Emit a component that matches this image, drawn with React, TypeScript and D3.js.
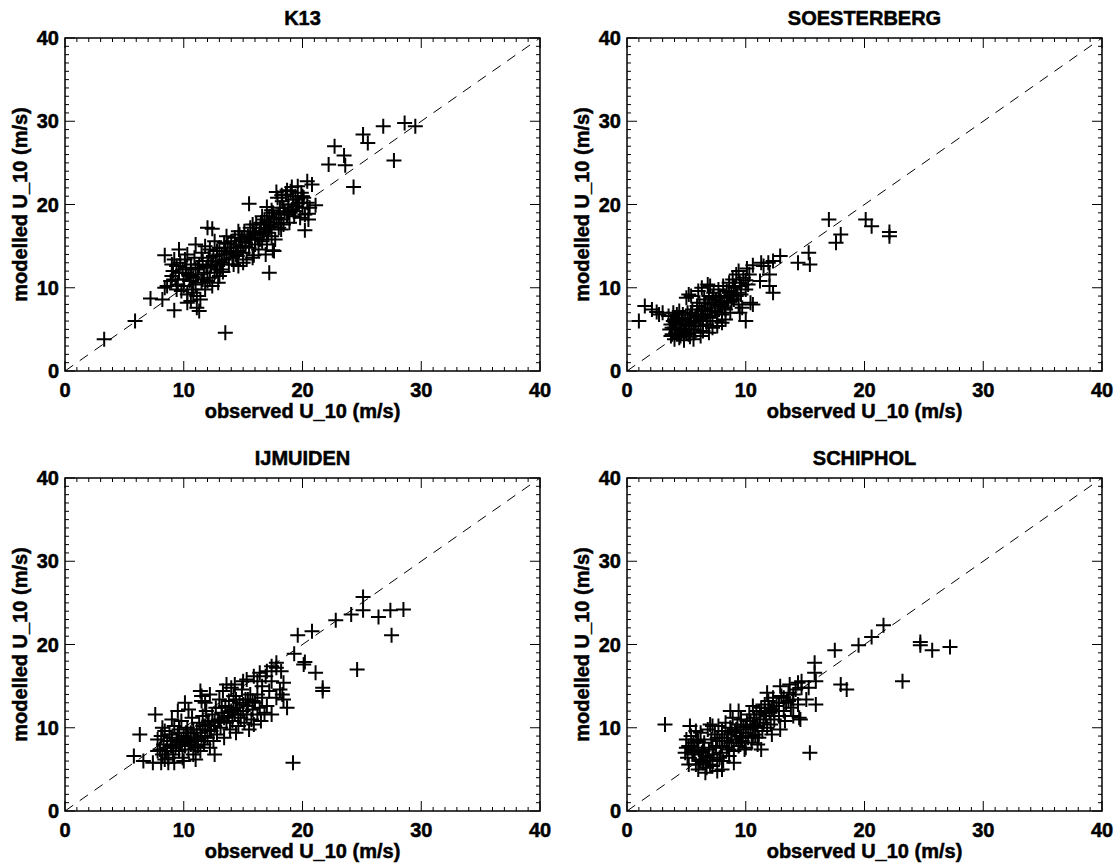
import React from "react";
import * as d3 from "d3";

const stationNames: string[] = ["K13", "SOESTERBERG", "IJMUIDEN", "SCHIPHOL"];
const tickValues: number[] = [0, 10, 20, 30, 40];
const xAxisTitle = "observed U_10 (m/s)";
const yAxisTitle = "modelled U_10 (m/s)";

const k13Points: [number, number][] = [
  [3.3,3.8],[5.9,6.0],[7.2,8.7],[8.2,8.6],[8.4,13.9],[8.4,10.0],[9.2,7.3],[9.6,14.6],[10.3,8.2],[11.0,15.2],[11.1,7.6],[11.3,7.2],[12.0,17.2],[12.4,17.1],[13.5,4.6],[15.5,20.1],[17.2,11.8],[17.6,14.4],[20.4,22.8],[20.8,22.4],[20.2,16.9],[21.1,19.9],[22.2,24.8],[22.7,27.0],[23.5,25.9],[23.6,24.7],[24.3,22.1],[25.1,28.4],[25.5,27.4],[26.8,29.4],[27.7,25.3],[28.6,29.8],[29.5,29.4],
  [8.6,10.2],[8.9,10.8],[9.0,11.4],[9.1,12.0],[9.3,11.0],[9.4,12.6],[9.5,10.4],[9.6,11.8],[9.7,13.0],[9.8,9.6],[9.9,12.2],[10.0,11.0],[10.0,10.2],[10.1,13.4],[10.2,12.4],[10.3,9.2],[10.4,11.6],[10.5,10.8],[10.6,12.8],[10.7,9.8],[10.8,11.2],[10.9,13.6],[11.0,12.2],[11.0,10.4],[11.1,9.0],[11.2,11.6],[11.3,12.8],[11.4,8.6],[11.5,10.6],[11.6,13.2],[11.7,11.8],[11.8,9.8],[11.9,12.4],[12.0,10.8],[12.1,13.6],[12.2,11.2],[12.3,12.6],[12.4,10.2],[12.5,13.8],[12.6,11.8],[12.7,12.8],[12.8,14.4],[12.9,10.6],[13.0,13.2],[13.1,12.2],[9.2,13.4],[10.3,14.0],[11.5,14.2],[10.6,8.4],[13.3,11.9],
  [13.2,14.0],[13.4,13.4],[13.5,14.8],[13.7,15.3],[13.8,12.8],[13.9,14.2],[14.0,15.6],[14.1,13.6],[14.2,14.8],[14.3,16.0],[14.4,15.2],[14.5,13.8],[14.6,14.4],[14.7,16.4],[14.8,15.0],[14.9,15.8],[15.0,14.2],[15.1,16.8],[15.2,15.4],[15.3,13.4],[15.4,16.2],[15.5,14.8],[15.6,17.2],[15.7,15.8],[15.8,13.6],[15.9,16.6],[16.0,15.2],[16.1,17.6],[16.2,16.0],[16.3,14.6],[16.4,16.8],[16.5,17.8],[16.6,15.6],[16.7,16.4],[16.8,18.2],[16.9,17.0],[17.0,15.2],[17.1,16.6],[17.2,18.6],[17.3,17.4],[17.4,16.2],[17.5,19.0],[17.6,17.8],[17.7,15.8],[17.8,18.4],[17.9,20.8],[18.0,17.2],[18.1,19.6],[18.2,18.2],[18.3,20.4],[18.4,17.6],[18.5,19.2],[18.6,21.2],[18.7,18.8],[18.8,20.0],[18.9,17.8],[19.0,21.6],[19.1,19.4],[19.2,20.6],[19.3,18.6],[19.4,21.0],[19.5,19.8],[19.6,22.2],[19.7,20.2],[19.8,18.4],[19.9,21.4],[20.0,19.6],[20.1,20.8],[20.2,18.8],[20.4,20.2],[20.5,18.2],[20.6,19.6],[17.8,21.5],[18.25,21.1],[18.7,21.7],[19.1,22.1],[17.0,19.7],[17.4,19.3],[20.5,18.9],[15.9,13.9],[17.5,14.5],[14.6,12.6],[13.6,16.2],[12.6,15.6],[13.0,14.8],[16.9,14.0],
  [10.2,11.8],[10.6,11.4],[11.2,12.4],[11.6,11.0],[12.0,12.6],[12.4,13.2],[12.8,12.2],[13.2,13.0],[13.6,14.0],[14.0,14.4],[14.4,14.0],[14.8,15.6],[15.2,15.0],[15.6,16.0],[16.0,16.4],[16.4,15.8],[16.8,17.2],[17.2,17.6],[17.6,18.4],[18.0,18.8],[18.4,19.6],[18.8,19.0],[19.2,20.0],[19.6,20.6],[20.0,21.0],[13.4,15.4],[14.2,12.8],[15.0,13.0],[12.2,14.6],[11.8,15.0],[9.4,9.8],[10.8,9.4],[9.0,12.8],[15.8,17.6],[16.6,18.6],[17.0,18.0],[18.2,17.0],[19.4,19.2],[14.6,16.8],[13.0,11.4]
];

const soesterbergPoints: [number, number][] = [
  [1.0,6.0],[1.5,7.8],[2.1,7.4],[2.5,7.1],[2.7,6.8],[3.0,7.0],[3.5,6.6],[4.4,4.0],[5.2,9.2],[6.8,10.4],[8.3,6.2],[9.5,7.0],[10.0,6.0],[10.4,8.2],[10.6,8.0],[12.0,11.6],[12.0,10.2],[12.3,9.4],[12.3,13.2],[12.9,13.8],[14.4,13.0],[15.3,14.2],[15.4,12.8],[17.0,18.2],[17.6,15.4],[18.0,16.4],[20.1,18.2],[20.6,17.4],[22.1,16.7],[22.1,16.2],[9.4,12.0],[10.1,12.3],[10.6,12.7],[11.3,13.0],[11.9,13.0],[11.5,12.6],[10.0,10.9],[11.2,10.8],[9.7,7.6],
  [3.6,5.0],[3.7,5.6],[3.8,4.4],[3.9,6.0],[4.0,5.2],[4.1,4.6],[4.2,5.8],[4.3,6.4],[4.4,5.0],[4.5,4.2],[4.6,5.6],[4.7,6.8],[4.8,4.8],[4.9,6.0],[5.0,5.4],[5.1,7.0],[5.2,4.4],[5.3,6.4],[5.4,5.0],[5.5,7.4],[5.6,5.8],[5.7,4.6],[5.8,6.6],[5.9,7.8],[6.0,5.4],[6.1,8.2],[6.2,6.2],[6.3,7.2],[6.4,4.8],[6.5,8.6],[6.6,6.8],[6.7,5.6],[6.8,7.6],[6.9,9.0],[7.0,6.4],[7.1,8.0],[7.2,5.2],[7.3,9.4],[7.4,7.2],[7.5,8.6],[7.6,6.0],[7.7,9.8],[7.8,7.8],[7.9,8.4],[8.0,6.8],[8.1,10.2],[8.2,9.0],[8.3,7.4],[8.4,9.6],[8.5,8.2],[8.6,10.6],[8.7,7.0],[8.8,9.2],[8.9,11.0],[9.0,8.6],[9.1,10.0],[9.2,11.6],[9.3,9.4],[9.4,8.0],[9.5,10.6],[9.6,9.2],[9.8,11.2],[10.0,9.8],[10.2,10.4],[10.3,11.6],[5.0,8.8],[5.4,9.0],[6.0,9.6],[6.3,10.0],[7.0,10.2],[4.4,7.2],[3.9,7.0],[4.2,6.8],[5.6,3.8],[6.2,4.2],[6.9,4.6],[5.3,4.1],[4.8,3.7],[7.6,5.4],[8.0,5.8],[4.0,3.8],[3.7,4.2],
  [4.6,5.0],[5.0,4.6],[5.2,5.6],[5.6,5.0],[5.8,6.0],[6.0,6.8],[6.2,5.4],[6.4,6.4],[6.6,7.4],[6.8,6.0],[7.0,7.2],[7.2,6.6],[7.4,8.2],[7.6,7.0],[7.8,9.0],[8.0,8.0],[8.2,7.6],[8.4,8.8],[8.6,9.4],[8.8,8.4],[9.0,10.2],[9.2,9.0],[9.6,10.2],[4.2,4.4],[4.6,6.2],[5.4,6.8],[6.6,8.2],[7.2,8.8],[4.0,6.2],[3.8,5.2]
];

const ijmuidenPoints: [number, number][] = [
  [5.8,6.6],[6.3,9.2],[6.6,6.0],[7.4,5.8],[8.1,5.8],[8.7,5.8],[7.6,11.6],[11.4,14.4],[11.5,13.8],[11.5,13.2],[10.1,13.0],[9.5,12.0],[19.2,5.8],[19.3,18.9],[19.6,21.1],[20.1,17.6],[20.2,17.9],[20.8,21.6],[21.1,16.6],[21.7,14.8],[21.7,14.4],[22.8,22.9],[24.1,23.6],[24.6,17.0],[25.1,25.7],[25.1,24.1],[26.4,23.3],[27.4,24.1],[27.5,21.1],[28.5,24.2],[18.7,12.4],[18.4,15.4],[17.8,13.6],[18.1,14.6],[17.8,17.2],[18.2,16.8],[14.3,15.2],[15.0,15.6],[15.3,15.8],[15.9,16.2],[16.4,16.6],[17.0,16.8],[17.4,17.4],[17.8,17.8],[18.4,13.4],[18.3,14.0],[17.4,11.6],
  [7.8,8.6],[8.0,7.4],[8.1,9.0],[8.2,6.8],[8.3,8.0],[8.4,9.6],[8.5,7.2],[8.6,8.4],[8.7,6.4],[8.8,9.2],[8.9,7.8],[9.0,8.8],[9.1,6.8],[9.2,10.2],[9.3,7.6],[9.4,8.6],[9.5,9.4],[9.6,7.2],[9.7,8.2],[9.8,10.8],[9.9,6.4],[10.0,9.0],[10.1,7.8],[10.2,8.6],[10.3,10.0],[10.4,7.4],[10.5,8.2],[10.6,9.4],[10.7,11.2],[10.8,6.8],[10.9,8.8],[11.0,7.6],[11.1,9.8],[11.2,8.4],[11.3,10.6],[11.4,7.2],[11.5,9.0],[11.6,11.4],[11.7,8.0],[11.8,10.2],[11.9,12.0],[12.0,8.8],[12.1,10.8],[12.2,7.6],[12.3,9.6],[12.4,11.6],[12.5,8.4],[12.6,10.2],[12.7,12.4],[12.8,9.2],[12.9,11.0],[13.0,13.4],[13.1,10.0],[13.2,11.8],[13.3,14.4],[13.4,8.8],[13.5,12.6],[13.6,10.6],[13.7,11.4],[13.8,13.2],[13.9,9.8],[14.0,12.0],[14.1,10.8],[14.2,13.8],[14.3,11.6],[14.4,9.4],[14.5,12.4],[14.6,10.2],[14.7,13.0],[14.8,11.2],[14.9,14.6],[15.0,12.0],[15.1,10.6],[15.2,13.4],[15.3,11.6],[15.4,12.6],[15.5,9.8],[15.6,14.0],[15.7,11.0],[15.8,12.2],[15.9,10.4],[16.0,13.0],[16.2,11.6],[16.4,12.4],[16.6,15.0],[16.8,11.8],[17.0,12.6],[17.2,14.4],[17.4,15.6],[16.5,10.8],[10.0,6.0],[11.0,6.2],[12.6,6.8],[9.2,5.8],[7.8,7.2],[8.2,10.0],[10.4,12.2],[11.8,13.0],[12.2,14.0],[9.0,11.0],[14.0,14.8],[13.6,15.2],[16.2,15.6],[16.9,16.2],
  [9.0,7.8],[9.4,8.0],[9.8,8.4],[10.2,9.4],[10.6,8.0],[11.0,8.6],[11.4,9.4],[11.8,9.0],[12.2,9.8],[12.6,10.6],[13.0,10.8],[13.4,11.2],[13.8,11.8],[14.2,12.2],[14.6,11.6],[15.0,12.8],[15.4,13.4],[15.8,13.2],[16.2,14.0],[16.6,13.6],[10.4,8.8],[10.8,9.8],[11.2,7.8],[12.0,10.4],[13.2,12.4],[14.4,13.4],[9.6,9.8],[8.6,7.6],[8.4,6.2],[11.6,10.2]
];

const schipholPoints: [number, number][] = [
  [3.2,10.4],[15.4,7.0],[15.8,17.8],[15.8,16.6],[15.9,15.6],[15.9,12.8],[17.5,19.3],[18.0,15.2],[18.5,14.6],[19.5,19.9],[20.6,20.9],[21.6,22.3],[23.2,15.6],[24.7,20.3],[24.7,19.9],[25.7,19.3],[27.2,19.7],[15.3,14.8],[15.1,13.4],[14.7,15.6],[14.7,14.8],[14.5,11.2],[11.3,7.4],[12.9,9.8],[5.3,10.2],[7.0,10.4],[7.2,10.2],[8.7,12.0],[9.4,12.0],[10.6,12.6],[11.8,14.2],[12.9,15.0],[13.7,15.2],[14.4,15.4],[14.6,11.0],
  [4.9,7.0],[5.0,8.6],[5.1,6.4],[5.2,7.8],[5.4,9.0],[5.5,6.8],[5.6,8.2],[5.7,7.2],[5.8,5.6],[5.9,8.6],[6.0,7.6],[6.1,6.2],[6.2,9.4],[6.3,7.0],[6.4,5.8],[6.5,8.2],[6.6,6.6],[6.7,5.2],[6.8,9.8],[6.9,7.4],[7.0,6.0],[7.1,8.6],[7.2,5.4],[7.3,6.8],[7.4,9.2],[7.5,7.8],[7.6,6.2],[7.7,10.2],[7.8,8.4],[7.9,7.0],[8.0,9.6],[8.1,6.0],[8.2,8.8],[8.3,10.6],[8.4,7.6],[8.5,9.2],[8.6,6.6],[8.7,10.0],[8.8,8.2],[8.9,11.2],[9.0,7.2],[9.1,9.6],[9.2,8.6],[9.3,10.4],[9.4,7.8],[9.5,9.0],[9.6,11.0],[9.7,8.4],[9.8,10.0],[9.9,7.4],[10.0,9.4],[10.1,10.8],[10.2,8.8],[10.3,11.6],[10.4,9.8],[10.5,8.2],[10.6,10.4],[10.7,11.2],[10.8,9.2],[10.9,12.0],[11.0,10.2],[11.1,8.8],[11.2,11.0],[11.3,12.4],[11.4,9.6],[11.5,10.6],[11.6,12.8],[11.7,11.4],[11.8,10.0],[11.9,13.2],[12.0,11.8],[12.1,10.4],[12.2,12.2],[12.3,13.6],[12.4,11.0],[12.6,12.6],[12.8,11.4],[13.0,13.8],[13.2,12.0],[13.4,13.0],[13.6,14.2],[13.8,12.4],[14.0,13.4],[14.2,14.6],[14.4,12.8],[13.3,10.8],[9.0,5.8],[8.0,5.0],[7.6,4.8],[6.6,4.6],[6.0,5.0],[10.0,7.6],[11.0,8.0],[5.8,9.6],[5.2,5.6],[12.2,9.2],[14.0,11.4],
  [5.6,7.4],[6.0,8.4],[6.4,7.2],[6.8,6.4],[7.2,7.6],[7.6,8.8],[8.0,7.8],[8.4,8.4],[8.8,9.4],[9.2,9.8],[9.6,8.8],[10.0,10.2],[10.4,10.8],[10.8,10.0],[11.2,11.6],[11.6,11.8],[12.0,12.4],[12.4,12.0],[12.8,13.0],[13.2,13.6],[13.6,13.2],[14.0,14.0],[6.2,6.0],[7.0,5.6],[7.8,6.4],[8.6,7.4],[9.4,8.2],[5.4,7.8],[5.0,7.6],[10.6,9.0]
];

const stationPoints = [k13Points, soesterbergPoints, ijmuidenPoints, schipholPoints];

const W = 1115;
const H = 865;
const panelW = 475;
const panelH = 333;
const panelOrigins: [number, number][] = [
  [65, 38],
  [627, 38],
  [65, 478],
  [627, 478],
];

const FONT = "'Liberation Sans', Arial, Helvetica, sans-serif";
const textStroke = { stroke: "#000", strokeWidth: 0.5 };

function Panel({ idx }: { idx: number }) {
  const [left, top] = panelOrigins[idx];
  const x = d3.scaleLinear().domain([0, 40]).range([left, left + panelW]);
  const y = d3.scaleLinear().domain([0, 40]).range([top + panelH, top]);
  const minor = d3.range(0, 41, 1);
  const pts = stationPoints[idx];
  const s = 7.5;
  const bottom = top + panelH;
  const right = left + panelW;
  return (
    <g>
      <text x={(left + right) / 2} y={top - 13} textAnchor="middle" fontFamily={FONT} fontWeight="bold" fontSize={20} {...textStroke}>
        {stationNames[idx]}
      </text>
      {minor.map((v) => {
        const len = v % 10 === 0 ? 10 : 4;
        return (
          <g key={v} stroke="#000" strokeWidth={1}>
            <line x1={x(v)} x2={x(v)} y1={bottom} y2={bottom - len} />
            <line x1={x(v)} x2={x(v)} y1={top} y2={top + len} />
            <line x1={left} x2={left + len} y1={y(v)} y2={y(v)} />
            <line x1={right} x2={right - len} y1={y(v)} y2={y(v)} />
          </g>
        );
      })}
      <rect x={left} y={top} width={panelW} height={panelH} fill="none" stroke="#000" strokeWidth={1.5} />
      <line x1={x(0)} y1={y(0)} x2={x(40)} y2={y(40)} stroke="#000" strokeWidth={1} strokeDasharray="10,8" />
      {pts.map(([px, py], i) => (
        <path
          key={i}
          d={`M${x(px) - s},${y(py)}H${x(px) + s}M${x(px)},${y(py) - s}V${y(py) + s}`}
          stroke="#000"
          strokeWidth={2}
          fill="none"
        />
      ))}
      {tickValues.map((v) => (
        <text key={"xl" + v} x={x(v)} y={bottom + 26} textAnchor="middle" fontFamily={FONT} fontWeight="bold" fontSize={20} {...textStroke}>
          {v}
        </text>
      ))}
      {tickValues.map((v) => (
        <text key={"yl" + v} x={left - 6} y={y(v)} dy="0.36em" textAnchor="end" fontFamily={FONT} fontWeight="bold" fontSize={20} {...textStroke}>
          {v}
        </text>
      ))}
      <text x={(left + right) / 2} y={bottom + 47} textAnchor="middle" fontFamily={FONT} fontWeight="bold" fontSize={20} {...textStroke}>
        {xAxisTitle}
      </text>
      <text
        transform={`translate(${left - 38},${(top + bottom) / 2}) rotate(-90)`}
        textAnchor="middle"
        fontFamily={FONT}
        fontWeight="bold"
        fontSize={20}
        {...textStroke}
      >
        {yAxisTitle}
      </text>
    </g>
  );
}

export default function App() {
  return (
    <svg width={W} height={H} style={{ position: "absolute", left: 0, top: 0, background: "#fff" }}>
      <rect x={0} y={0} width={W} height={H} fill="#fff" />
      {[0, 1, 2, 3].map((i) => (
        <Panel key={i} idx={i} />
      ))}
    </svg>
  );
}
